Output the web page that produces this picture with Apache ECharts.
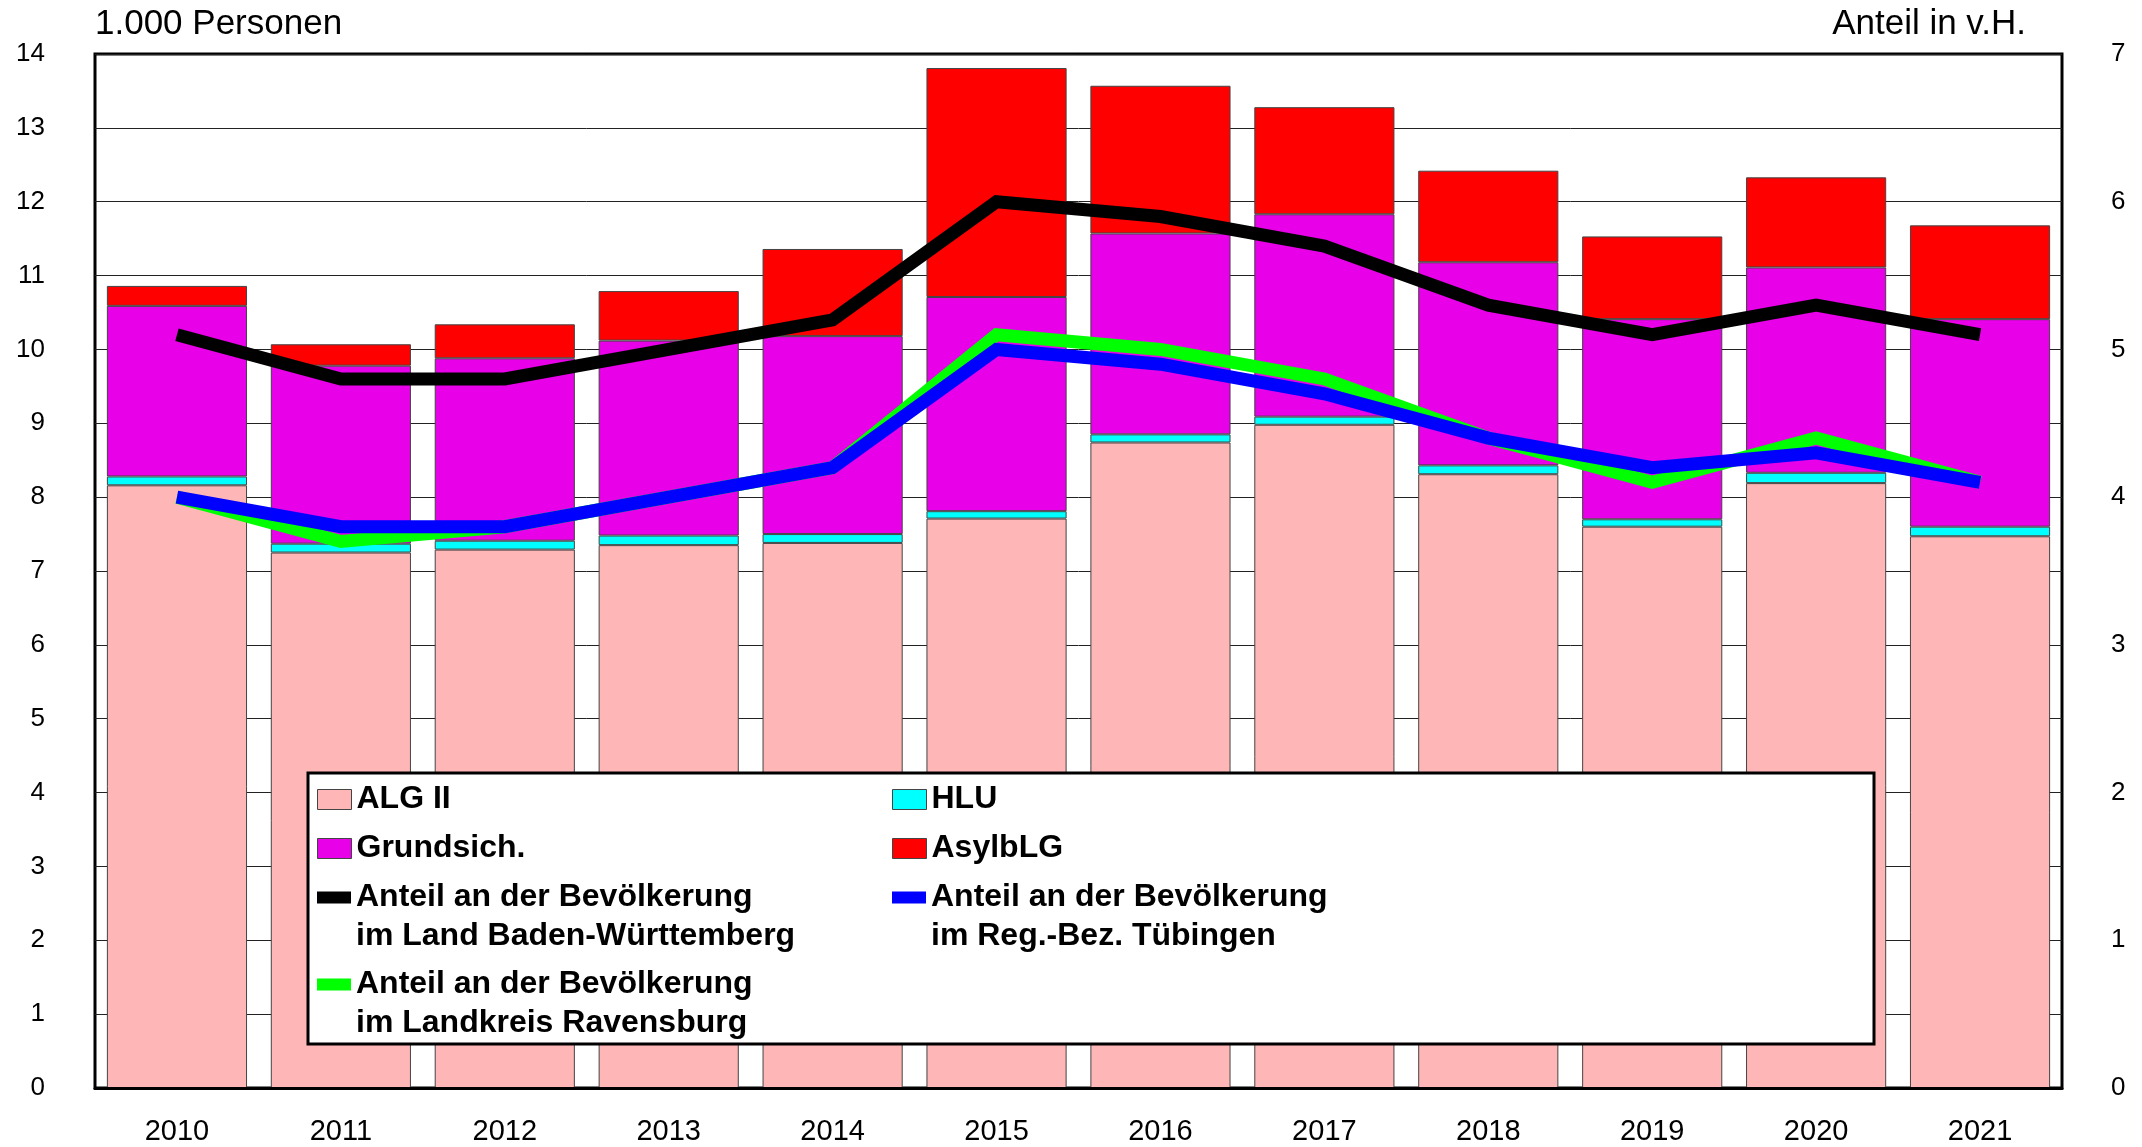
<!DOCTYPE html>
<html style="height: 100%">
<head>
  <meta charset="utf-8">
</head>
<body style="height: 100%; margin: 0">
<div id="chartContainer" style="width: 2142px; height: 1147px"></div>
<script src="https://cdn.jsdelivr.net/npm/echarts@6/dist/echarts.min.js"></script>
<script>
  // Daten (Tsd. Personen bzw. Anteil in v.H.)
  var years = ['2010', '2011', '2012', '2013', '2014', '2015', '2016', '2017', '2018', '2019', '2020', '2021'];
  var algII = [8.16, 7.25, 7.29, 7.35, 7.38, 7.71, 8.74, 8.98, 8.31, 7.60, 8.19, 7.47];
  var hlu = [0.12, 0.12, 0.12, 0.13, 0.12, 0.10, 0.11, 0.11, 0.12, 0.10, 0.14, 0.13];
  var grundsich = [2.31, 2.41, 2.47, 2.64, 2.68, 2.90, 2.72, 2.74, 2.75, 2.71, 2.78, 2.81];
  var asylblg = [0.27, 0.29, 0.46, 0.67, 1.18, 3.10, 2.00, 1.45, 1.24, 1.12, 1.22, 1.27];
  var anteilBW = [5.1, 4.8, 4.8, 5.0, 5.2, 6.0, 5.9, 5.7, 5.3, 5.1, 5.3, 5.1];
  var anteilRavensburg = [4.0, 3.7, 3.8, 4.0, 4.2, 5.1, 5.0, 4.8, 4.4, 4.1, 4.4, 4.1];
  var anteilTuebingen = [4.0, 3.8, 3.8, 4.0, 4.2, 5.0, 4.9, 4.7, 4.4, 4.2, 4.3, 4.1];

  var FONT = '"Liberation Sans", Arial, sans-serif';
  var NAME_BW = 'Anteil an der Bevölkerung\nim Land Baden-Württemberg';
  var NAME_TUE = 'Anteil an der Bevölkerung\nim Reg.-Bez. Tübingen';
  var NAME_RV = 'Anteil an der Bevölkerung\nim Landkreis Ravensburg';

  var dom = document.getElementById('chartContainer');
  var myChart = echarts.init(dom, null, {renderer: 'canvas'});

  function barSeries(name, data, color) {
    return {
      name: name,
      type: 'bar',
      stack: 'summe',
      barCategoryGap: '14.5%',
      itemStyle: {color: color, borderColor: '#444', borderWidth: 1},
      data: data
    };
  }

  function lineSeries(name, data, color, z) {
    return {
      name: name,
      type: 'line',
      yAxisIndex: 1,
      showSymbol: false,
      symbol: 'none',
      z: z,
      itemStyle: {color: color},
      lineStyle: {color: color, width: 13, cap: 'butt', join: 'miter'},
      data: data
    };
  }

  var legendText = {
    fontFamily: FONT,
    fontSize: 32,
    fontWeight: 'bold',
    color: '#000',
    lineHeight: 39
  };

  // eine Legende pro Eintrag, damit die Zeilen wie im Original sitzen
  function legendItem(name, left, top, isLine) {
    var item = {
      data: [name],
      left: left,
      top: top,
      padding: 0,
      z: 60,
      icon: 'rect',
      itemWidth: 34,
      itemHeight: isLine ? 12 : 20,
      itemStyle: isLine ? {borderWidth: 0} : {borderColor: '#444', borderWidth: 1},
      selectedMode: false,
      textStyle: legendText
    };
    if (isLine) {
      // leere Zeile oben, damit das Symbol auf Höhe der ersten Textzeile steht
      item.formatter = function (n) {
        var parts = n.split('\n');
        return '{p| }\n{t|' + parts[0] + '}\n{t|' + parts[1] + '}';
      };
      item.textStyle = {
        fontFamily: FONT,
        fontSize: 32,
        fontWeight: 'bold',
        color: '#000',
        lineHeight: 39,
        rich: {
          p: {fontSize: 32, lineHeight: 39},
          t: legendText
        }
      };
    }
    return item;
  }

  var option = {
    animation: false,
    backgroundColor: '#fff',
    title: [{
      text: '1.000 Personen',
      left: 95,
      top: 7,
      padding: 0,
      textStyle: {fontFamily: FONT, fontSize: 35, fontWeight: 'normal', color: '#000'}
    }, {
      text: 'Anteil in v.H.',
      right: 116,
      top: 7,
      padding: 0,
      textStyle: {fontFamily: FONT, fontSize: 35, fontWeight: 'normal', color: '#000'}
    }],
    grid: {
      left: 95,
      right: 80,
      top: 54,
      bottom: 59,
      show: true,
      borderColor: '#000',
      borderWidth: 3,
      backgroundColor: 'transparent'
    },
    legend: [
      legendItem('ALG II', 317, 780, false),
      legendItem('Grundsich.', 317, 829, false),
      legendItem(NAME_BW, 317, 839, true),
      legendItem(NAME_RV, 317, 926, true),
      legendItem('HLU', 892, 780, false),
      legendItem('AsylbLG', 892, 829, false),
      legendItem(NAME_TUE, 892, 839, true)
    ],
    graphic: [{
      type: 'rect',
      z: 50,
      shape: {x: 308, y: 773, width: 1566, height: 271},
      style: {fill: '#fff', stroke: '#000', lineWidth: 3}
    }],
    xAxis: {
      type: 'category',
      data: years,
      z: 10,
      axisLine: {show: true, lineStyle: {color: '#000', width: 3}},
      axisTick: {show: false},
      axisLabel: {fontFamily: FONT, fontSize: 29, color: '#000', margin: 29}
    },
    yAxis: [{
      type: 'value',
      min: 0,
      max: 14,
      interval: 1,
      axisLine: {show: false},
      axisTick: {show: false},
      axisLabel: {fontFamily: FONT, fontSize: 26, color: '#000', margin: 50},
      splitLine: {show: true, lineStyle: {color: '#222', width: 1}}
    }, {
      type: 'value',
      position: 'right',
      min: 0,
      max: 7,
      interval: 1,
      axisLine: {show: false},
      axisTick: {show: false},
      axisLabel: {fontFamily: FONT, fontSize: 26, color: '#000', margin: 49},
      splitLine: {show: false}
    }],
    series: [
      barSeries('ALG II', algII, '#FFB6B6'),
      barSeries('HLU', hlu, '#00FFFF'),
      barSeries('Grundsich.', grundsich, '#E800E8'),
      barSeries('AsylbLG', asylblg, '#FF0000'),
      lineSeries(NAME_BW, anteilBW, '#000000', 3),
      lineSeries(NAME_RV, anteilRavensburg, '#00FF00', 4),
      lineSeries(NAME_TUE, anteilTuebingen, '#0000FF', 5)
    ]
  };

  if (option && typeof option === 'object') {
    myChart.setOption(option, true);
  }
</script>
</body>
</html>
